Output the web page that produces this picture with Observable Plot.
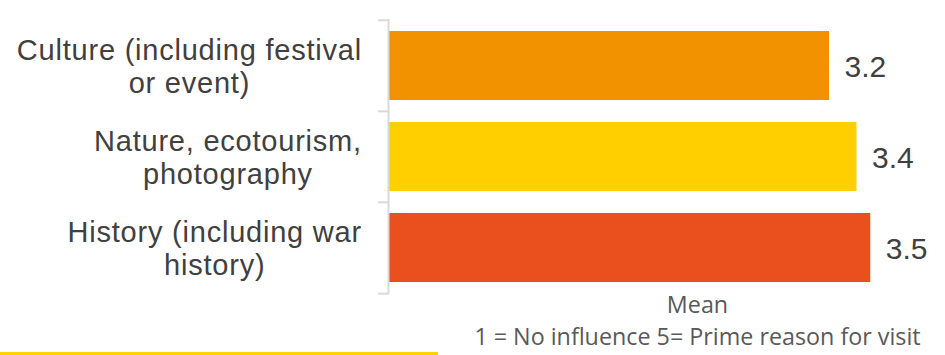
<!DOCTYPE html>
<html>
<head>
<meta charset="utf-8">
<script src="https://cdn.jsdelivr.net/npm/d3@7"></script>
<script src="https://cdn.jsdelivr.net/npm/@observablehq/plot@0.6"></script>
<style>
  html, body { margin: 0; padding: 0; background: #fff; }
  #wrap { position: relative; width: 945px; height: 355px; overflow: hidden; }
  #rule { position: absolute; left: 0; top: 352px; width: 438px; height: 3px; background: #FFD200; }
</style>
</head>
<body>
<div id="wrap"><div id="chart"></div><div id="rule"></div></div>
<script>
// ---- data ----
const categories = ["Culture (including festival or event)", "Nature, ecotourism, photography", "History (including war history)"];
const labelLines = [["Culture (including festival", "or event)"], ["Nature, ecotourism,", "photography"], ["History (including war", "history)"]];
const means = [3.2, 3.4, 3.5];
const colors = ["#F39200", "#FFCF00", "#E9501E"];
const axisTitle = "Mean";
const axisNote = "1 = No influence 5= Prime reason for visit";

const data = categories.map((c, i) => ({category: c, mean: means[i], color: colors[i], lines: labelLines[i]}));

const W = 945, H = 355, mTop = 19, mBottom = 62, mLeft = 378, mRight = 0;
const step = (H - mTop - mBottom) / categories.length;
const LS = 0.78; // letter spacing for category labels
const labelFont = "29px 'Liberation Sans', Arial, sans-serif";

const ctx = document.createElement("canvas").getContext("2d");
ctx.font = labelFont;

const labelMarks = data.map(d => {
  const w = Math.max(...d.lines.map(l => ctx.measureText(l).width + LS * (l.length - 1)));
  return Plot.text([d], {
    y: "category", text: r => r.lines.join("\n"),
    frameAnchor: "left", textAnchor: "middle", lineHeight: 1.14,
    dx: 361 - w / 2 - mLeft,
    fontSize: 29, fontFamily: "'Liberation Sans', Arial, sans-serif", fill: "#404040"
  });
});

const noteFont = "'Open Sans', 'Liberation Sans', sans-serif";
const chart = Plot.plot({
  width: W, height: H,
  marginTop: mTop, marginBottom: mBottom, marginLeft: mLeft, marginRight: mRight,
  x: {domain: [-(389 - mLeft) / 137.5, (W - 389) / 137.5], axis: null},
  y: {domain: categories, paddingInner: 0.245, paddingOuter: 0.1225, axis: null},
  marks: [
    Plot.barX(data, {y: "category", x: "mean", fill: "color"}),
    Plot.ruleX([0], {stroke: "#D9D9D9", strokeWidth: 2, dx: -1}),
    Plot.ruleY(data, {y: "category", x1: (389 - mLeft) / -137.5, x2: 0, dy: -step / 2, stroke: "#D9D9D9", strokeWidth: 2}),
    Plot.ruleY(data.slice(-1), {y: "category", x1: (389 - mLeft) / -137.5, x2: 0, dy: step / 2, stroke: "#D9D9D9", strokeWidth: 2}),
    Plot.text(data, {y: "category", x: "mean", text: d => d.mean.toFixed(1), textAnchor: "start", dx: 15, dy: 1,
      fontSize: 30, fontFamily: "'Liberation Sans', Arial, sans-serif", fill: "#404040"}),
    ...labelMarks,
    Plot.text([axisTitle], {text: d => d, frameAnchor: "bottom", dx: 697 - (mLeft + W) / 2, dy: 19,
      fontSize: 23.3, fontFamily: noteFont, fill: "#595959"}),
    Plot.text([axisNote], {text: d => d, frameAnchor: "bottom", dx: 697 - (mLeft + W) / 2, dy: 51,
      fontSize: 23.3, fontFamily: noteFont, fill: "#595959"})
  ]
});
d3.select(chart).selectAll("g[font-size='29']").attr("letter-spacing", LS + "px");
document.getElementById("chart").appendChild(chart);
</script>
</body>
</html>
